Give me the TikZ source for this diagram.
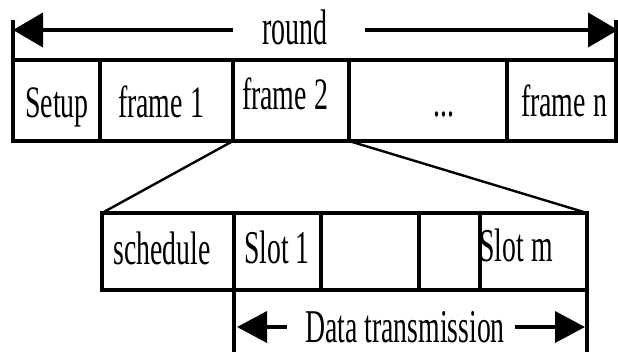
\documentclass[tikz,border=0pt]{standalone}
\usepackage{fontspec}
\setmainfont{Liberation Serif}
\usetikzlibrary{arrows.meta}
\newcommand\toptext[1]{\scalebox{0.62}[1]{\fontsize{45}{45}\selectfont #1}}
\newcommand\bottext[1]{\scalebox{0.59}[1]{\fontsize{47}{47}\selectfont #1}}
\newcommand\roundtext[1]{\scalebox{0.56}[1]{\fontsize{50}{50}\selectfont #1}}
\tikzset{
  cell/.style={draw, line width=3.2pt, inner sep=0pt, outer sep=0pt},
  toprow/.style={cell, minimum height=81pt},
  botrow/.style={cell, minimum height=77pt},
  lbl/.style={inner sep=0pt, outer sep=0pt, anchor=base},
  edge/.style={line width=3.2pt},
  slant/.style={line width=2.4pt},
  bigarr/.style={line width=4pt, -{Triangle[length=30pt,width=34pt]}},
  smallarr/.style={line width=3.6pt, -{Triangle[length=30pt,width=31pt]}}
}
\begin{document}
\begin{tikzpicture}[x=1pt,y=-1pt]
\useasboundingbox (0,0) rectangle (618,352);
% top row
\node[toprow, minimum width=87pt]  (setup) at (56.5,100.5) {};
\node[toprow, minimum width=133pt] (f1)    at (166.5,100.5) {};
\node[toprow, minimum width=116pt] (f2)    at (291,100.5) {};
\node[toprow, minimum width=158pt] (dots)  at (428,100.5) {};
\node[toprow, minimum width=109pt] (fn)    at (561.5,100.5) {};
\node[lbl] (tsetup) at (57,118) {\toptext{Setup}};
\node[lbl] (tf1)    at (161,118) {\toptext{frame 1}};
\node[lbl] (tf2)    at (285,110) {\toptext{frame 2}};
\node[lbl] (tdots)  at (444,117) {\toptext{...}};
\node[lbl] (tfn)    at (564,117) {\toptext{frame n}};
% round arrow
\coordinate (ltop) at (13,20);
\coordinate (rtop) at (616,20);
\draw[edge] (setup.north west) -- (ltop);
\draw[edge] (fn.north east) -- (rtop);
\node[lbl] (round) at (295,45) {\roundtext{round}};
\coordinate (rl) at (233,30);
\coordinate (rr) at (365,30);
\coordinate (tipl) at (13,30);
\coordinate (tipr) at (618,30);
\draw[bigarr] (rl) -- (tipl);
\draw[bigarr] (rr) -- (tipr);
% bottom row
\node[botrow, minimum width=132pt] (sched) at (168,251.5) {};
\node[botrow, minimum width=87pt]  (s1)    at (277.5,251.5) {};
\node[botrow, minimum width=98pt]  (b1)    at (370,251.5) {};
\node[botrow, minimum width=61pt]  (b2)    at (449.5,251.5) {};
\node[botrow, minimum width=107pt] (sm)    at (533.5,251.5) {};
\node[lbl] (tsched) at (162,265) {\bottext{schedule}};
\node[lbl] (ts1)    at (277,264) {\bottext{Slot 1}};
\node[lbl] (tsm)    at (516,262) {\bottext{Slot m}};
% zoom lines
\draw[slant] (f2.south west) -- (sched.north west);
\draw[slant] (f2.south east) -- (sm.north east);
% data transmission
\coordinate (dl) at (234,352);
\coordinate (dr) at (587,352);
\draw[edge] (s1.south west) -- (dl);
\draw[edge] (sm.south east) -- (dr);
\node[lbl] (data) at (405,342) {\bottext{Data transmission}};
\coordinate (al) at (287,327);
\coordinate (atl) at (237,327);
\coordinate (ar) at (515,327);
\coordinate (atr) at (585,327);
\draw[smallarr] (al) -- (atl);
\draw[smallarr] (ar) -- (atr);
\end{tikzpicture}
\end{document}
